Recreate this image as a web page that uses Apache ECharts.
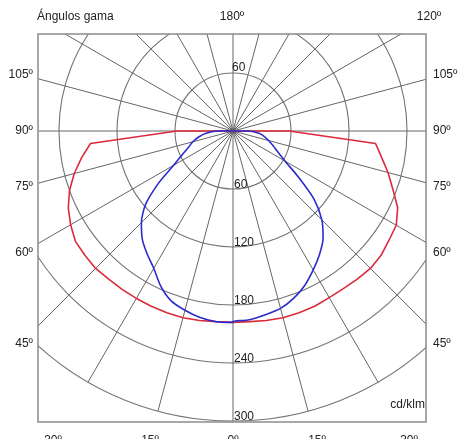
<!DOCTYPE html>
<html><head><meta charset="utf-8">
<script src="https://cdn.jsdelivr.net/npm/echarts@6/dist/echarts.min.js"></script>
<style>html,body{margin:0;padding:0;background:#fff}#c{width:459px;height:439px}</style>
</head><body><div id="c"></div>
<script>
// gamma angles (degrees from nadir)
const gamma = [0,5,10,15,20,25,30,35,40,45,50,55,60,65,70,75,80,85,90,180];
// intensities, cd/klm
const redLeft   = [198,198,199,200,200,200,200,200,200,201,200,199,194,188,180,170,159,148,58,0];
const redRight  = [198,198,199,200,200,200,199,199,200,201,200,197,195,188,176,166,156,148,58,0];
const blueLeft  = [198,198,196,192,187,177,164,155,146,134,118,94,71,58,49,43,36,28,15,0];
const blueRight = [197,196,193,190,184,176,166,156,145,130,109,82,62,51,44,38,33,27,15,0];

const title = 'Ángulos gama';
const unit = 'cd/klm';
const sideLabels = ['105º','90º','75º','60º','45º'];
const topLabels = ['180º','120º'];
const bottomLabels = ['30º','15º','0º','15º','30º'];
const upperRadiusLabel = '60';

const chart = echarts.init(document.getElementById('c'), null, {renderer:'canvas'});
function path(left, right){
  const pts = [];
  for (let i = gamma.length-1; i >= 0; i--) pts.push([left[i], gamma[i]]);
  for (let i = 0; i < gamma.length; i++) pts.push([right[i], 360 - gamma[i]]);
  return pts;
}
const FONT = '12px "Liberation Sans", Arial, sans-serif';
const TXT = '#222';
function txt(text, x, y, align){
  return {type:'text', z:102, silent:true,
    style:{text:text, x:x, y:y, align:align||'center', verticalAlign:'middle', font:FONT, fill:TXT}};
}
const sideY = [75,131,187,253,344];
const bottomX = [53,150,233,317,409];
const graphics = [
  {type:'rect', z:100, silent:true, shape:{x:0,y:0,width:459,height:34}, style:{fill:'#fff'}},
  {type:'rect', z:100, silent:true, shape:{x:0,y:422,width:459,height:17}, style:{fill:'#fff'}},
  {type:'rect', z:100, silent:true, shape:{x:0,y:0,width:38,height:439}, style:{fill:'#fff'}},
  {type:'rect', z:100, silent:true, shape:{x:426,y:0,width:33,height:439}, style:{fill:'#fff'}},
  {type:'rect', z:101, silent:true, shape:{x:38,y:34,width:388,height:388}, style:{fill:null, stroke:'#8c8c8c', lineWidth:1.5}},
  txt(title, 37, 17, 'left'),
  txt(topLabels[0], 232, 17),
  txt(topLabels[1], 429, 17),
  txt(unit, 425, 405, 'right'),
  txt(upperRadiusLabel, 232, 68, 'left')
];
sideLabels.forEach((s,i)=>{
  graphics.push(txt(s, 33, sideY[i], 'right'));
  graphics.push(txt(s, 433, sideY[i], 'left'));
});
bottomLabels.forEach((s,i)=>{
  graphics.push(txt(s, bottomX[i], 441));
});

const option = {
  animation:false,
  polar:{center:[233,131], radius:290},
  angleAxis:{type:'value', min:0, max:360, interval:15, startAngle:270, clockwise:true,
    axisLine:{show:false}, axisTick:{show:false}, axisLabel:{show:false},
    splitLine:{show:true, lineStyle:{color:'#666', width:1}}},
  radiusAxis:{type:'value', min:0, max:300, interval:60,
    axisLine:{show:false}, axisTick:{show:false},
    axisLabel:{show:true, formatter:v => v === 0 ? '' : String(v), color:TXT, fontSize:12,
      fontFamily:'"Liberation Sans", Arial, sans-serif', align:'left', verticalAlign:'bottom',
      lineHeight:8, margin:1},
    splitLine:{show:true, lineStyle:{color:'#747474', width:1.1}}},
  series:[
    {type:'line', coordinateSystem:'polar', data:path(redLeft, redRight), showSymbol:false,
      lineStyle:{color:'#dc2a3a', width:1.6}, z:5},
    {type:'line', coordinateSystem:'polar', data:path(blueLeft, blueRight), showSymbol:false,
      smooth:0.25, lineStyle:{color:'#2b2bcc', width:1.6}, z:6}
  ],
  graphic:graphics
};
chart.setOption(option);
</script>
</body></html>
